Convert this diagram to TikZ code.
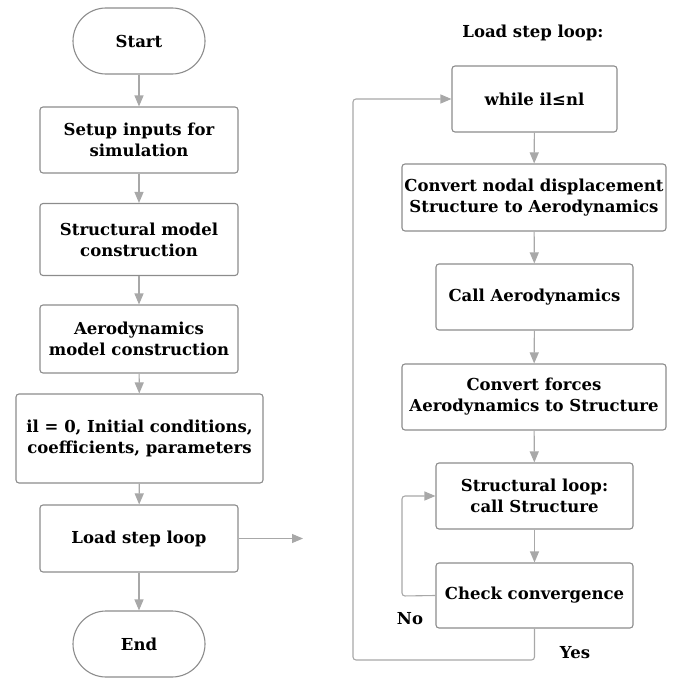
\documentclass[tikz,border=0pt]{standalone}
\usepackage{fontspec}
\setmainfont{DejaVu Serif}
\usetikzlibrary{arrows.meta}
\definecolor{boxc}{HTML}{8C8C8C}
\definecolor{arrc}{HTML}{A8A8A8}
\tikzset{
  box/.style={draw=boxc, line width=1.1pt, rounded corners=3pt, inner sep=0pt, align=center,
    font=\fontsize{16.5}{21}\selectfont\bfseries, text=black},
  term/.style={box, rounded corners=33pt, minimum width=132pt, minimum height=66pt},
  flow/.style={draw=arrc, line width=1.1pt, -{Triangle[length=11pt,width=9pt]}},
  lbl/.style={font=\fontsize{16.5}{21}\selectfont\bfseries, inner sep=0pt}
}
\begin{document}
\begin{tikzpicture}[x=1pt,y=-1pt]
\useasboundingbox (0,0) rectangle (681,680);
% left column
\node[term] (start) at (139,41) {Start};
\node[box, minimum width=198pt, minimum height=66pt] (setup) at (139,140) {Setup inputs for\\simulation};
\node[box, minimum width=198pt, minimum height=72pt] (struct) at (139,239.5) {Structural model\\construction};
\node[box, minimum width=198pt, minimum height=68pt] (aero) at (139,339) {Aerodynamics\\model construction};
\node[box, minimum width=247pt, minimum height=89pt] (init) at (139.5,438.5) {il = 0, Initial conditions,\\coefficients, parameters};
\node[box, minimum width=198pt, minimum height=67pt] (load) at (139,538.5) {Load step loop};
\node[term] (end) at (139,644) {End};
\coordinate (lout) at (303,538.5);
\draw[flow] (start) -- (setup);
\draw[flow] (setup) -- (struct);
\draw[flow] (struct) -- (aero);
\draw[flow] (aero) -- (init);
\draw[flow] (init) -- (load);
\draw[flow] (load) -- (end);
\draw[flow] (load) -- (lout);
% right column
\node[lbl] (title) at (533,33) {Load step loop:};
\node[box, minimum width=165pt, minimum height=66pt] (while) at (534.5,99) {while il≤nl};
\node[box, minimum width=264pt, minimum height=67pt] (conv) at (534,197.5) {Convert nodal displacement\\Structure to Aerodynamics};
\node[box, minimum width=197pt, minimum height=66pt] (call) at (534.5,297) {Call Aerodynamics};
\node[box, minimum width=264pt, minimum height=66pt] (force) at (534,397) {Convert forces\\Aerodynamics to Structure};
\node[box, minimum width=197pt, minimum height=66pt] (sloop) at (534.5,496) {Structural loop:\\call Structure};
\node[box, minimum width=197pt, minimum height=65pt] (check) at (534.5,595.5) {Check convergence};
\draw[flow] (while) -- (conv);
\draw[flow] (conv) -- (call);
\draw[flow] (call) -- (force);
\draw[flow] (force) -- (sloop);
\draw[flow] (sloop) -- (check);
\coordinate (nl) at (402,596);
\draw[flow, rounded corners=3pt] (check.west) -- (nl) |- (sloop.west);
\coordinate (yb) at (534.5,660);
\coordinate (yl) at (353,660);
\draw[flow, rounded corners=3pt] (check.south) -- (yb) -- (yl) |- (while.west);
\node[lbl] (no) at (410,619) {No};
\node[lbl] (yes) at (575,653) {Yes};
\end{tikzpicture}
\end{document}
